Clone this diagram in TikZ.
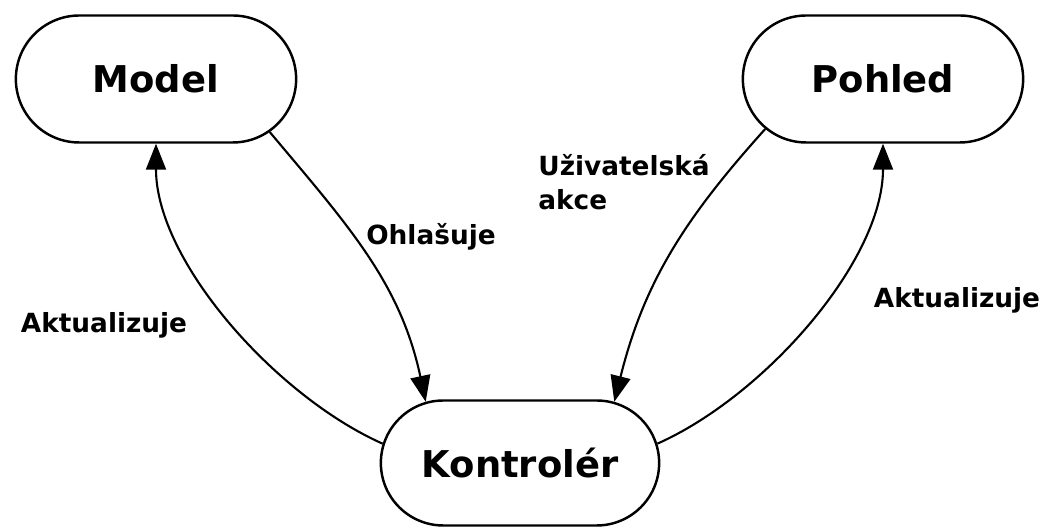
\documentclass[tikz,border=0pt]{standalone}
\usepackage{fontspec}
\setmainfont{DejaVu Sans}
\usepackage{tikz}
\usetikzlibrary{arrows.meta}
\usetikzlibrary{shapes.misc}
\tikzstyle{box}=[rounded rectangle, draw=black, line width=1.4pt, minimum width=5.84cm, minimum height=2.54cm, font=\fontsize{21}{25}\selectfont\bfseries]
\tikzstyle{label}=[inner sep=0pt, font=\fontsize{15}{19}\selectfont\bfseries]
\tikzstyle{arrow}=[draw=black, line width=1.2pt, ->, >={Triangle[length=5.2mm, width=4mm]}]

\begin{document}
\begin{tikzpicture}
		   \useasboundingbox (0, 0) rectangle (20.92, 10.54);
		   \begin{scope}
			   \node (model) at (3.12, 8.96)[box] {Model};
			   \node (pohled) at (17.66, 8.96)[box] {Pohled};
			   \node (kontroler) at (10.4, 1.28)[box, minimum width=5.8cm, minimum height=2.5cm] {Kontrolér};
		   \end{scope}
		   \begin{scope}
			   \node (aktL) at (2.08, 4.04)[label] {Aktualizuje};
			   \node (ohl) at (8.62, 5.8)[label] {Ohlašuje};
			   \node (akce) at (10.76, 6.9)[label, anchor=west, align=left] {Uživatelská\\akce};
			   \node (aktR) at (19.14, 4.54)[label] {Aktualizuje};
		   \end{scope}
		   \begin{scope}
			   \path (kontroler.172) edge[arrow, out=156, in=-90, looseness=0.8] (model.south);
			   \path (model.-25) edge[arrow, out=-50, in=102] (kontroler.147);
			   \path (pohled.203) edge[arrow, out=-132, in=76] (kontroler.33);
			   \path (kontroler.8) edge[arrow, out=24, in=-90, looseness=0.8] (pohled.south);
		   \end{scope}
	   \end{tikzpicture}
\end{document}
